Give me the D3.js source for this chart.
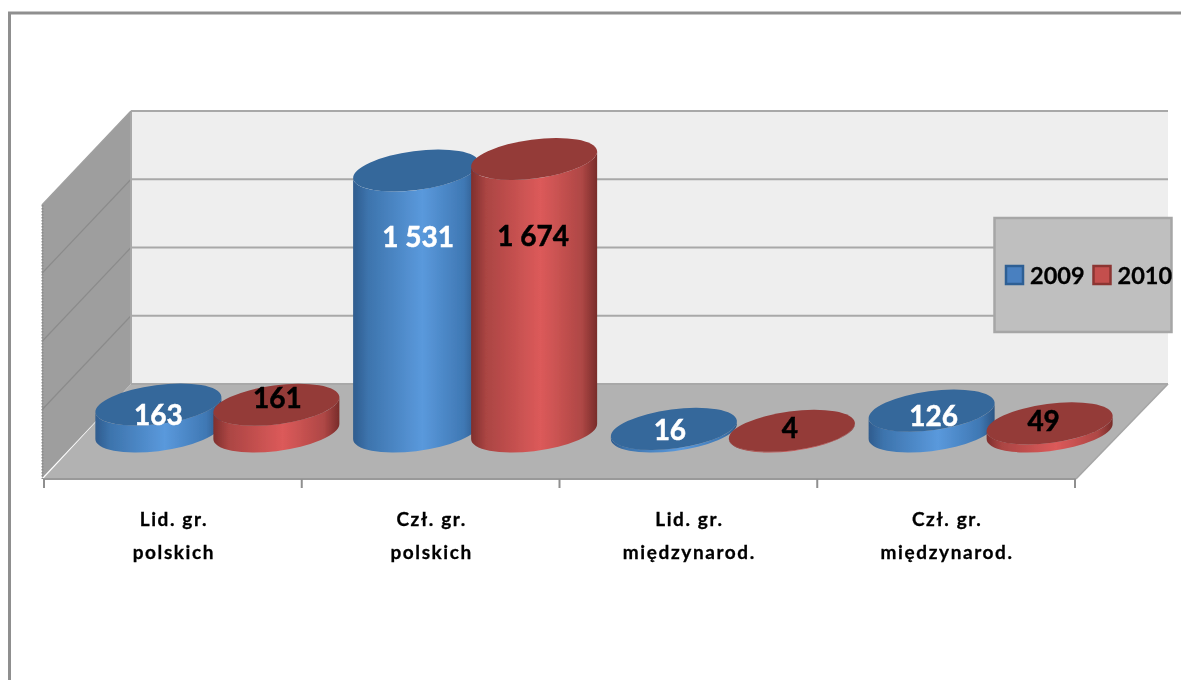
<!DOCTYPE html>
<html><head><meta charset="utf-8">
<script src="https://cdnjs.cloudflare.com/ajax/libs/d3/7.8.5/d3.min.js"></script>
<style>html,body{margin:0;padding:0;background:#fff}svg{display:block}text{font-family:Lato,"Open Sans",sans-serif;font-weight:700}</style>
</head><body><svg id="c" width="1181" height="680"></svg>
<script>
const categories = [["Lid. gr.","polskich"],["Czł. gr.","polskich"],["Lid. gr.","międzynarod."],["Czł. gr.","międzynarod."]];
const seriesNames = ["2009","2010"];
const values2009 = [163,1531,16,126];
const values2010 = [161,1674,4,49];
const labels2009 = ["163","1 531","16","126"];
const labels2010 = ["161","1 674","4","49"];
const gridTicks = [0,500,1000,1500,2000];

// layout
const W=1181,H=680, L=44,R=1075, floorFront=479, floorBack=384, wallTop=111, depthX=89, depthY=95;
const rx=63.5, ry=19.5, tilt=-7.5;
const root=d3.select("#c");
const defs=root.append("defs");
defs.append("filter").attr("id","soft").attr("x",0).attr("y",0).attr("width",1).attr("height",1)
  .append("feGaussianBlur").attr("stdDeviation",0.45);
const svg=root.append("g").attr("filter","url(#soft)");
svg.append("rect").attr("width",W).attr("height",H).attr("fill","#fff");
function grad(id,stops){const g=defs.append("linearGradient").attr("id",id);
  stops.forEach(([o,c])=>g.append("stop").attr("offset",o).attr("stop-color",c));}
grad("g2009",[[0,"#2f5c8e"],[.12,"#3d74ad"],[.55,"#5a99dc"],[.88,"#3f78b4"],[1,"#2c5684"]]);
grad("g2010",[[0,"#7f2f2d"],[.12,"#ab4543"],[.55,"#dc5a5a"],[.88,"#ae4745"],[1,"#782c2a"]]);
const topFill={"2009":"#35679b","2010":"#943a38"};

const x=d3.scaleBand().domain(d3.range(categories.length)).range([L,R]);
const sub=d3.scaleBand().domain(seriesNames).range([-118,118]);
// height scale: stops as the reference draws them
const h=d3.scaleLinear().domain([0,163,1531,1674]).range([0,27,261,272.5]);
const wallY=d3.scaleLinear().domain([0,2000]).range([floorBack,wallTop]);

// frame
svg.append("path").attr("d",`M9.5,${H+4}V13H${W+4}`).attr("fill","none").attr("stroke","#8f8f8f").attr("stroke-width",3);

// walls and floor
const pts=a=>a.map(p=>p.join(",")).join(" ");
const backL=L+depthX-2, backR=R+depthX+4;
svg.append("polygon").attr("points",pts([[backL,wallTop],[backR,wallTop],[backR,floorBack],[backL,floorBack]])).attr("fill","#eeeeee");
svg.append("polygon").attr("points",pts([[42,wallTop+94],[backL,wallTop],[backL,floorBack],[42,floorBack+94]])).attr("fill","#9e9e9e");
svg.append("g").selectAll("line").data(gridTicks).join("line")
  .attr("x1",backL).attr("x2",backR).attr("y1",wallY).attr("y2",wallY)
  .attr("stroke","#a8a8a8").attr("stroke-width",2.2);
svg.append("g").selectAll("line").data(gridTicks.slice(1,-1)).join("line")
  .attr("x1",backL).attr("x2",42).attr("y1",wallY).attr("y2",d=>wallY(d)+94)
  .attr("stroke","#8b8b8b").attr("stroke-width",1.2);
svg.append("line").attr("x1",backL).attr("x2",backL).attr("y1",wallTop).attr("y2",floorBack).attr("stroke","#a8a8a8").attr("stroke-width",2);
svg.append("line").attr("x1",42.5).attr("x2",42.5).attr("y1",wallTop+94).attr("y2",floorFront)
  .attr("stroke","#8b8b8b").attr("stroke-width",2).attr("stroke-dasharray","1.5 1.5");
svg.append("line").attr("x1",42).attr("x2",backL).attr("y1",wallTop+94).attr("y2",wallTop).attr("stroke","#a0a0a0").attr("stroke-width",1.5);
svg.append("polygon").attr("points",pts([[L-1,floorFront],[R+1,floorFront],[backR,floorBack],[backL,floorBack]])).attr("fill","#b2b2b2");
svg.append("line").attr("x1",backL).attr("x2",backR).attr("y1",floorBack).attr("y2",floorBack).attr("stroke","#a8a8a8").attr("stroke-width",2);
svg.append("line").attr("x1",L-1).attr("x2",R+1).attr("y1",floorFront).attr("y2",floorFront).attr("stroke","#999").attr("stroke-width",2);
svg.append("line").attr("x1",R+1).attr("x2",backR).attr("y1",floorFront).attr("y2",floorBack).attr("stroke","#a5a5a5").attr("stroke-width",1.5);
// ticks
svg.append("g").selectAll("line").data([...x.domain().map(i=>x(i)),R]).join("line")
  .attr("x1",d=>d).attr("x2",d=>d).attr("y1",floorFront).attr("y2",488).attr("stroke","#8f8f8f").attr("stroke-width",2);

// cylinders
const phi=tilt*Math.PI/180;
const t0=Math.atan2(-ry*Math.sin(phi),rx*Math.cos(phi));
const ex=rx*Math.cos(t0)*Math.cos(phi)-ry*Math.sin(t0)*Math.sin(phi);
const ey=rx*Math.cos(t0)*Math.sin(phi)+ry*Math.sin(t0)*Math.cos(phi);
const baseY=(floorFront+floorBack)/2;
const rows=[];
categories.forEach((c,i)=>{
  seriesNames.forEach((s,j)=>{
    const v=(j?values2010:values2009)[i];
    rows.push({i,s,v,label:(j?labels2010:labels2009)[i],cx:x(i)+x.bandwidth()/2+depthX/2+sub(s)+sub.bandwidth()/2});
  });
});
const gc=svg.append("g").selectAll("g").data(rows).join("g");
gc.append("path").attr("fill",d=>`url(#g${d.s})`).attr("d",d=>{
  const t=baseY-h(d.v);
  return `M${d.cx-ex},${t-ey}L${d.cx-ex},${baseY-ey}A${rx},${ry} ${tilt} 0 0 ${d.cx+ex},${baseY+ey}L${d.cx+ex},${t+ey}A${rx},${ry} ${tilt} 0 1 ${d.cx-ex},${t-ey}Z`;
});
gc.append("ellipse").attr("rx",rx).attr("ry",ry).attr("fill",d=>topFill[d.s])
  .attr("transform",d=>`translate(${d.cx},${baseY-h(d.v)}) rotate(${tilt})`);

// data labels: nudges from the top face of each cylinder
const nudges={ "2009":[[0,10],[2,66],[-4,1],[2,5]], "2010":[[1,-7],[-1,77],[-2,-3],[-6,-2]] };
svg.append("g").selectAll("text").data(rows).join("text")
  .attr("x",d=>d.cx+nudges[d.s][d.i][0]).attr("y",d=>baseY-h(d.v)+nudges[d.s][d.i][1])
  .attr("dy","0.36em").attr("text-anchor","middle").attr("font-size",28)
  .attr("stroke",d=>d.s==="2009"?"#fff":"#000").attr("stroke-width",0.5)
  .attr("fill",d=>d.s==="2009"?"#fff":"#000").text(d=>d.label);

// category labels
const catG=svg.append("g").selectAll("g").data(categories).join("g");
catG.each(function(c,i){
  d3.select(this).selectAll("text").data(c).join("text")
    .attr("x",x(i)+x.bandwidth()/2+1).attr("y",(d,k)=>526+k*32.5)
    .attr("text-anchor","middle").attr("font-size",19).attr("letter-spacing",1.6)
    .attr("stroke","#000").attr("stroke-width",0.3).attr("fill","#000").text(d=>d);
});

// legend
const lg=svg.append("g");
lg.append("rect").attr("x",994.5).attr("y",218).attr("width",177).attr("height",114)
  .attr("fill","#bfbfbf").attr("stroke","#a6a6a6").attr("stroke-width",2.5);
const legX=d3.scaleOrdinal().domain(seriesNames).range([1006,1093.5]);
const it=lg.selectAll("g").data(seriesNames).join("g").attr("transform",d=>`translate(${legX(d)},266)`);
it.append("rect").attr("width",17).attr("height",18).attr("fill",d=>d==="2009"?"#4a80c0":"#c4504e")
  .attr("stroke",d=>d==="2009"?"#2f5f94":"#8c3432").attr("stroke-width",2.5);
it.append("text").attr("x",24).attr("y",18).attr("font-size",23.5)
  .attr("stroke","#000").attr("stroke-width",0.3).attr("fill","#000").text(d=>d);
</script></body></html>
